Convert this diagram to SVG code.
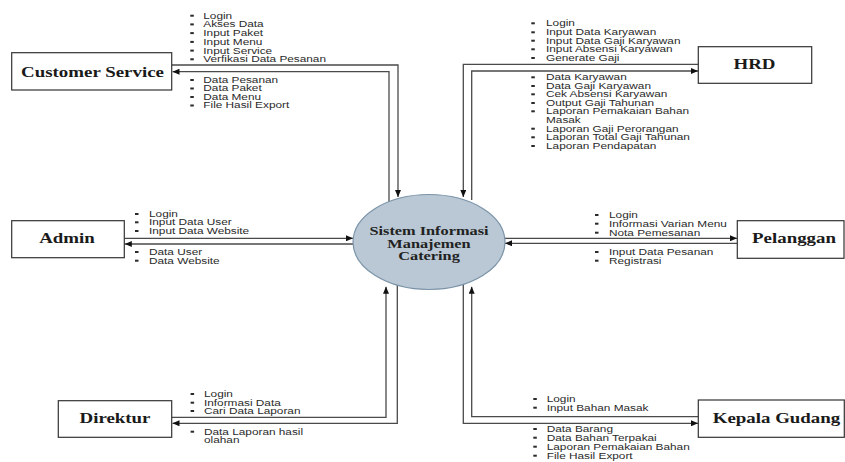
<svg xmlns="http://www.w3.org/2000/svg" width="845" height="462" viewBox="0 0 845 462">
<defs>
<marker id="arr" viewBox="0 0 7 6" refX="7" refY="3" markerWidth="7" markerHeight="6" markerUnits="userSpaceOnUse" orient="auto">
<path d="M0,0 L7,3 L0,6 z" fill="#111"/>
</marker>
</defs>
<style>
.box{fill:#fff;stroke:#333;stroke-width:1.2}
.bt{font-family:"Liberation Serif","Times New Roman",serif;font-weight:bold;font-size:13.6px;fill:#1a1a1a;text-anchor:middle}
.ct{font-family:"Liberation Serif","Times New Roman",serif;font-weight:bold;font-size:12px;fill:#222;text-anchor:middle}
.lt{font-family:"Liberation Sans",Arial,sans-serif;font-size:8.5px;fill:#2a2a2a}
.bl{fill:#2a2a2a}
.cn{fill:none;stroke:#4a4a4a;stroke-width:1.3}
</style>
<rect width="845" height="462" fill="#fff"/>
<g id="connectors">
<path class="cn" d="M172,65 H398 V197" marker-end="url(#arr)"/>
<path class="cn" d="M389,202 V71.7 H172.5" marker-end="url(#arr)"/>
<path class="cn" d="M698,64.3 H463.3 V197" marker-end="url(#arr)"/>
<path class="cn" d="M471.7,200 V71 H698" marker-end="url(#arr)"/>
<path class="cn" d="M124.3,238.3 H353" marker-end="url(#arr)"/>
<path class="cn" d="M353.5,244 H124.8" marker-end="url(#arr)"/>
<path class="cn" d="M504.5,238.3 H737" marker-end="url(#arr)"/>
<path class="cn" d="M737.3,243.3 H505" marker-end="url(#arr)"/>
<path class="cn" d="M172,417.3 H386 V286.7" marker-end="url(#arr)"/>
<path class="cn" d="M397.3,284.5 V423.3 H172.5" marker-end="url(#arr)"/>
<path class="cn" d="M698,416.7 H471.7 V286.7" marker-end="url(#arr)"/>
<path class="cn" d="M463.3,284.5 V423.3 H698" marker-end="url(#arr)"/>
</g>
<g id="process">
<ellipse cx="429" cy="242" rx="76" ry="47.5" fill="#b9c8d4" stroke="#7b93a8" stroke-width="1.2"/>
<g transform="translate(429,0) scale(1.36,1)">
<text class="ct" x="0" y="235.5">Sistem Informasi</text>
<text class="ct" x="0" y="248">Manajemen</text>
<text class="ct" x="0" y="260.5">Catering</text>
</g>
</g>
<g id="customer-service">
<rect class="box" x="11.7" y="52.7" width="160" height="37.3"/>
<text class="bt" transform="translate(92.5,76.7) scale(1.39,1)">Customer Service</text>
</g>
<g id="hrd">
<rect class="box" x="698.3" y="46.7" width="113.4" height="36.6"/>
<text class="bt" transform="translate(754.5,69.3) scale(1.39,1)">HRD</text>
</g>
<g id="admin">
<rect class="box" x="11.7" y="220.7" width="112.6" height="37"/>
<text class="bt" transform="translate(67,243.3) scale(1.39,1)">Admin</text>
</g>
<g id="pelanggan">
<rect class="box" x="737.3" y="220.7" width="106.7" height="37.6"/>
<text class="bt" transform="translate(794,243.3) scale(1.39,1)">Pelanggan</text>
</g>
<g id="direktur">
<rect class="box" x="58.3" y="400.7" width="113.4" height="36.6"/>
<text class="bt" transform="translate(115,422.7) scale(1.39,1)">Direktur</text>
</g>
<g id="kepala-gudang">
<rect class="box" x="698.3" y="400" width="146" height="37.3"/>
<text class="bt" transform="translate(776.5,422.7) scale(1.39,1)">Kepala Gudang</text>
</g>
<g id="labels">
<g class="bl">
<rect x="190.3" y="14.7" width="3.5" height="2"/><rect x="190.3" y="23.4" width="3.5" height="2"/><rect x="190.3" y="32.1" width="3.5" height="2"/><rect x="190.3" y="40.9" width="3.5" height="2"/><rect x="190.3" y="49.6" width="3.5" height="2"/><rect x="190.3" y="58.3" width="3.5" height="2"/>
<rect x="190.3" y="79" width="3.5" height="2"/><rect x="190.3" y="87.5" width="3.5" height="2"/><rect x="190.3" y="96" width="3.5" height="2"/><rect x="190.3" y="104.5" width="3.5" height="2"/>
<rect x="531.3" y="22.3" width="3.5" height="2"/><rect x="531.3" y="31.3" width="3.5" height="2"/><rect x="531.3" y="39.7" width="3.5" height="2"/><rect x="531.3" y="48.3" width="3.5" height="2"/><rect x="531.3" y="57" width="3.5" height="2"/>
<rect x="531.3" y="76.3" width="3.5" height="2"/><rect x="531.3" y="85" width="3.5" height="2"/><rect x="531.3" y="93.3" width="3.5" height="2"/><rect x="531.3" y="102" width="3.5" height="2"/><rect x="531.3" y="110.3" width="3.5" height="2"/><rect x="531.3" y="127.7" width="3.5" height="2"/><rect x="531.3" y="136.3" width="3.5" height="2"/><rect x="531.3" y="145" width="3.5" height="2"/>
<rect x="135" y="213" width="3.5" height="2"/><rect x="135" y="221.3" width="3.5" height="2"/><rect x="135" y="230" width="3.5" height="2"/>
<rect x="135" y="251" width="3.5" height="2"/><rect x="135" y="259.7" width="3.5" height="2"/>
<rect x="595" y="214" width="3.5" height="2"/><rect x="595" y="222.7" width="3.5" height="2"/><rect x="595" y="231.7" width="3.5" height="2"/>
<rect x="595" y="251" width="3.5" height="2"/><rect x="595" y="259.7" width="3.5" height="2"/>
<rect x="190.6" y="393" width="3.5" height="2"/><rect x="190.6" y="401.7" width="3.5" height="2"/><rect x="190.6" y="410" width="3.5" height="2"/>
<rect x="190.6" y="430.7" width="3.5" height="2"/>
<rect x="533.3" y="398" width="3.5" height="2"/><rect x="533.3" y="406.7" width="3.5" height="2"/>
<rect x="533.3" y="428" width="3.5" height="2"/><rect x="533.3" y="436.7" width="3.5" height="2"/><rect x="533.3" y="445.7" width="3.5" height="2"/><rect x="533.3" y="454.7" width="3.5" height="2"/>
</g>
<g transform="translate(203.3,0) scale(1.39,1)">
<text class="lt" x="0" y="18.7">Login</text>
<text class="lt" x="0" y="27.4">Akses Data</text>
<text class="lt" x="0" y="36.1">Input Paket</text>
<text class="lt" x="0" y="44.9">Input Menu</text>
<text class="lt" x="0" y="53.6">Input Service</text>
<text class="lt" x="0" y="62.3">Verfikasi Data Pesanan</text>
<text class="lt" x="0" y="83">Data Pesanan</text>
<text class="lt" x="0" y="91.5">Data Paket</text>
<text class="lt" x="0" y="100">Data Menu</text>
<text class="lt" x="0" y="108.5">File Hasil Export</text>
</g>
<g transform="translate(546,0) scale(1.39,1)">
<text class="lt" x="0" y="26.3">Login</text>
<text class="lt" x="0" y="35.3">Input Data Karyawan</text>
<text class="lt" x="0" y="43.7">Input Data Gaji Karyawan</text>
<text class="lt" x="0" y="52.3">Input Absensi Karyawan</text>
<text class="lt" x="0" y="61">Generate Gaji</text>
<text class="lt" x="0" y="80.3">Data Karyawan</text>
<text class="lt" x="0" y="89">Data Gaji Karyawan</text>
<text class="lt" x="0" y="97.3">Cek Absensi Karyawan</text>
<text class="lt" x="0" y="106">Output Gaji Tahunan</text>
<text class="lt" x="0" y="114.3">Laporan Pemakaian Bahan</text>
<text class="lt" x="0" y="123">Masak</text>
<text class="lt" x="0" y="131.7">Laporan Gaji Perorangan</text>
<text class="lt" x="0" y="140.3">Laporan Total Gaji Tahunan</text>
<text class="lt" x="0" y="149">Laporan Pendapatan</text>
</g>
<g transform="translate(149,0) scale(1.39,1)">
<text class="lt" x="0" y="217">Login</text>
<text class="lt" x="0" y="225.3">Input Data User</text>
<text class="lt" x="0" y="234">Input Data Website</text>
<text class="lt" x="0" y="255">Data User</text>
<text class="lt" x="0" y="263.7">Data Website</text>
</g>
<g transform="translate(609,0) scale(1.39,1)">
<text class="lt" x="0" y="218">Login</text>
<text class="lt" x="0" y="226.7">Informasi Varian Menu</text>
<text class="lt" x="0" y="235.7">Nota Pemesanan</text>
<text class="lt" x="0" y="255">Input Data Pesanan</text>
<text class="lt" x="0" y="263.7">Registrasi</text>
</g>
<g transform="translate(204,0) scale(1.39,1)">
<text class="lt" x="0" y="397">Login</text>
<text class="lt" x="0" y="405.7">Informasi Data</text>
<text class="lt" x="0" y="414">Cari Data Laporan</text>
<text class="lt" x="0" y="434.7">Data Laporan hasil</text>
<text class="lt" x="0" y="443">olahan</text>
</g>
<g transform="translate(546.7,0) scale(1.39,1)">
<text class="lt" x="0" y="402">Login</text>
<text class="lt" x="0" y="410.7">Input Bahan Masak</text>
<text class="lt" x="0" y="432">Data Barang</text>
<text class="lt" x="0" y="440.7">Data Bahan Terpakai</text>
<text class="lt" x="0" y="449.7">Laporan Pemakaian Bahan</text>
<text class="lt" x="0" y="458.7">File Hasil Export</text>
</g>
</g>
</svg>
